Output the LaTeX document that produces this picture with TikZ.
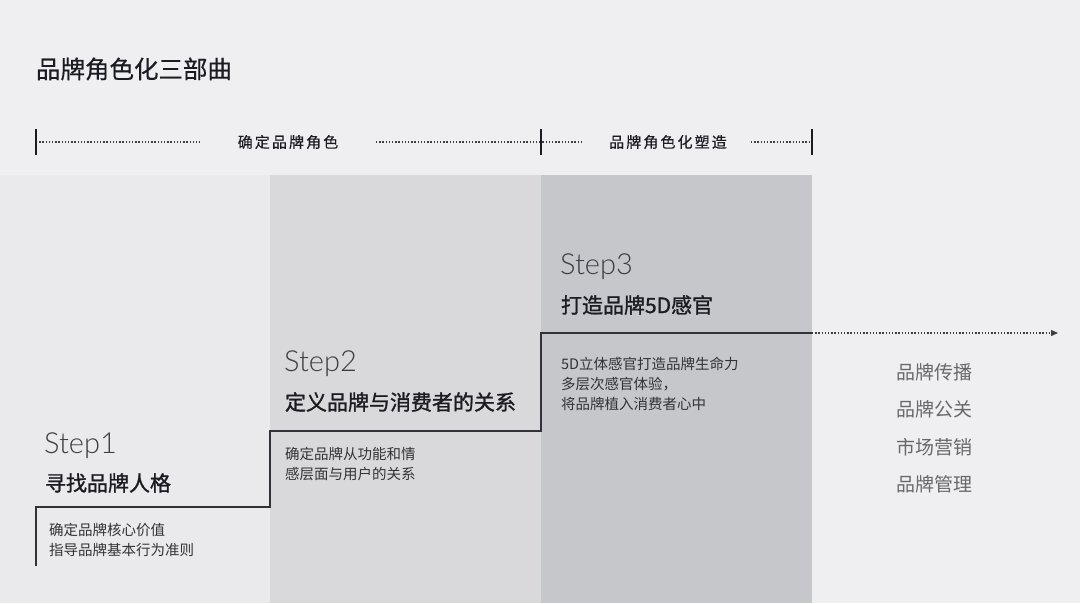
\documentclass[tikz,border=0pt]{standalone}
\usepackage{fontspec}
\setmainfont{Noto Sans CJK SC}
\newfontfamily\stepfont{Lato Light}
\newfontfamily\spacedfont{Noto Sans CJK SC}[LetterSpace=14,FakeBold=0.4]
\newfontfamily\headfont{Noto Sans CJK SC}[FakeBold=1.3]
\newfontfamily\titlefont{Noto Sans CJK SC}[FakeBold=0.5]
\usetikzlibrary{arrows.meta}
\definecolor{bgc}{HTML}{EFEFF2}
\definecolor{colA}{HTML}{EAEAEC}
\definecolor{colB}{HTML}{D9D9DB}
\definecolor{colC}{HTML}{C6C7CB}
\definecolor{ink}{HTML}{1B1B22}
\definecolor{desc}{HTML}{333336}
\definecolor{listc}{HTML}{68686C}
\definecolor{dotc}{HTML}{3E3E42}
\begin{document}
\begin{tikzpicture}[x=1pt,y=-1pt,
  txt/.style={inner sep=0pt,outer sep=0pt,anchor=west},
  titletxt/.style={txt,font=\titlefont\fontsize{24.5}{28}\selectfont,text=ink},
  bracetxt/.style={inner sep=0pt,anchor=center,font=\spacedfont\fontsize{15}{18}\selectfont,text=ink},
  steptxt/.style={inner sep=0pt,anchor=base west,font=\stepfont\fontsize{29}{32}\selectfont,text=ink!85},
  headtxt/.style={txt,font=\headfont\fontsize{21}{24}\selectfont,text=ink},
  desctxt/.style={txt,font=\fontsize{14.5}{17}\selectfont,text=desc},
  listtxt/.style={inner sep=0pt,anchor=center,font=\fontsize{19}{22}\selectfont,text=listc},
  dotline/.style={draw=dotc,line width=1.3pt,dash pattern=on 1.3pt off 1.9pt},
  tickline/.style={draw=ink,line width=1.6pt},
  stepline/.style={draw=ink!90,line width=1.8pt,line join=miter}]
\useasboundingbox (0,0) rectangle (1080,603);
\fill[bgc] (0,0) rectangle (1080,603);
\fill[colA] (0,175) rectangle (270,603);
\fill[colB] (270,175) rectangle (541,603);
\fill[colC] (541,175) rectangle (812,603);

% title
\node[titletxt] (title) at (36,69) {品牌角色化三部曲};

% top bracket
\coordinate (t1a) at (36,129); \coordinate (t1b) at (36,155);
\coordinate (t2a) at (541,129); \coordinate (t2b) at (541,155);
\coordinate (t3a) at (812,129); \coordinate (t3b) at (812,155);
\node[bracetxt] (brA) at (288,142) {确定品牌角色};
\node[bracetxt] (brB) at (668,142) {品牌角色化塑造};
\coordinate (d1s) at (36,142); \coordinate (d1e) at (200,142);
\coordinate (d2s) at (376,142); \coordinate (d2e) at (583,142);
\coordinate (d3s) at (751,142); \coordinate (d3e) at (812,142);
\draw[dotline] (d1s) -- (d1e);
\draw[dotline] (d2s) -- (d2e);
\draw[dotline] (d3s) -- (d3e);
\draw[tickline] (t1a) -- (t1b);
\draw[tickline] (t2a) -- (t2b);
\draw[tickline] (t3a) -- (t3b);

% step line
\coordinate (s0) at (36,566);
\coordinate (s1) at (36,507);
\coordinate (s2) at (270,507);
\coordinate (s3) at (270,431);
\coordinate (s4) at (541,431);
\coordinate (s5) at (541,333);
\coordinate (s6) at (812,333);
\coordinate (s7) at (1058,333);
\draw[stepline] (s0) -- (s1) -- (s2) -- (s3) -- (s4) -- (s5) -- (s6);
\draw[dotline,-{Triangle[length=7pt,width=6pt]}] (s6) -- (s7);

% step 1
\node[steptxt] (st1) at (44,453) {Step1};
\node[headtxt] (h1) at (45,483) {寻找品牌人格};
\node[desctxt] (d1a) at (49,530) {确定品牌核心价值};
\node[desctxt] (d1b) at (49,550) {指导品牌基本行为准则};

% step 2
\node[steptxt] (st2) at (284,371) {Step2};
\node[headtxt] (h2) at (285,402) {定义品牌与消费者的关系};
\node[desctxt] (d2a) at (285,454) {确定品牌从功能和情};
\node[desctxt] (d2b) at (285,474) {感层面与用户的关系};

% step 3
\node[steptxt] (st3) at (560,274) {Step3};
\node[headtxt] (h3) at (561,305) {打造品牌5D感官};
\node[desctxt] (d3a) at (561,364) {5D立体感官打造品牌生命力};
\node[desctxt] (d3b) at (561,384) {多层次感官体验，};
\node[desctxt] (d3c) at (561,404) {将品牌植入消费者心中};

% right list
\node[listtxt] (l1) at (934,372) {品牌传播};
\node[listtxt] (l2) at (934,409) {品牌公关};
\node[listtxt] (l3) at (934,447) {市场营销};
\node[listtxt] (l4) at (934,484) {品牌管理};
\end{tikzpicture}
\end{document}
